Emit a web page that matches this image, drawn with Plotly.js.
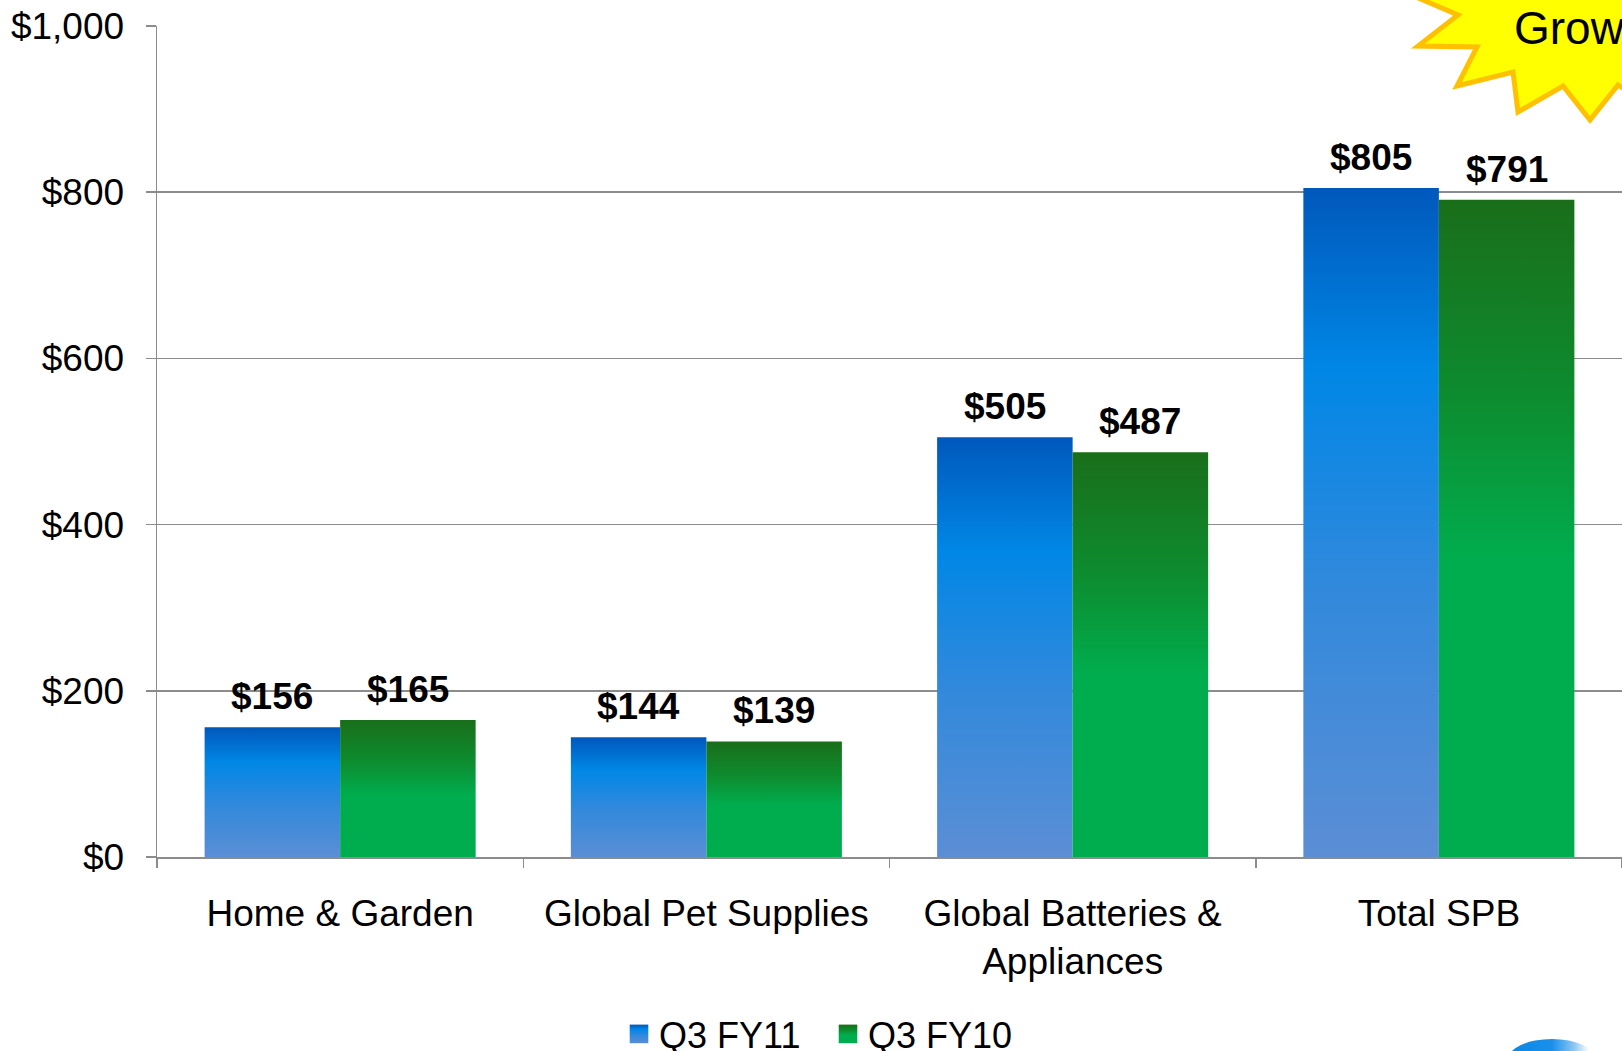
<!DOCTYPE html>
<html>
<head>
<meta charset="utf-8">
<script src="https://cdn.plot.ly/plotly-3.0.1.min.js"></script>
<style>
  html, body { margin: 0; padding: 0; background: #ffffff; }
  #chart { width: 1622px; height: 1051px; }
</style>
</head>
<body>
<div id="chart"></div>
<script>
// ---- Data ----
const categories = ["Home & Garden", "Global Pet Supplies", "Global Batteries &<br>Appliances", "Total SPB"];
const seriesNames = ["Q3 FY11", "Q3 FY10"];
const q3fy11 = [156, 144, 505, 805];
const q3fy10 = [165, 139, 487, 791];
const yTickVals = [0, 200, 400, 600, 800, 1000];
const yTickText = ["$0", "$200", "$400", "$600", "$800", "$1,000"];
const burstText = "Growth";

// ---- Layout constants (pixels) ----
const W = 1622, H = 1051;
const M = { l: 157, r: 0, t: 26, b: 194, autoexpand: false };
const plotW = W - M.l - M.r, plotH = H - M.t - M.b;
const bargap = 0.26;
const barPx = plotW / categories.length * (1 - bargap) / 2;
const FONT = "Liberation Sans, Arial, Helvetica, sans-serif";

function px(x) { return (x - M.l) / plotW; }
function py(y) { return (M.t + plotH - y) / plotH; }
function pathFromPixels(pts) {
  return "M " + pts.map(p => px(p[0]).toFixed(5) + "," + py(p[1]).toFixed(5)).join(" L ") + " Z";
}

const traces = [
  { type: "bar", name: seriesNames[0], x: categories, y: q3fy11,
    marker: { color: "#0088e5", line: { width: 0 } }, hoverinfo: "none" },
  { type: "bar", name: seriesNames[1], x: categories, y: q3fy10,
    marker: { color: "#00ad4e", line: { width: 0 } }, hoverinfo: "none" }
];

const annotations = [];
[q3fy11, q3fy10].forEach((vals, i) => {
  vals.forEach((v, j) => {
    annotations.push({
      x: categories[j], y: v, xref: "x", yref: "y",
      text: "<b>$" + v + "</b>", showarrow: false,
      xanchor: "center", yanchor: "bottom",
      xshift: (i === 0 ? -1 : 1) * barPx / 2, yshift: 8,
      font: { family: FONT, size: 37, color: "#000000" }
    });
  });
});

// Starburst decoration (top right)
const burst = [
  [1395, -12], [1458, 15], [1418, 46], [1477, 47], [1457, 86], [1513, 72],
  [1518, 112], [1563, 86], [1590, 120], [1618, 85], [1660, 110], [1720, 60], [1720, -40]
];
annotations.push({
  xref: "paper", yref: "paper", x: px(1512), y: py(28),
  xanchor: "left", yanchor: "middle", text: burstText, showarrow: false,
  font: { family: FONT, size: 46, color: "#000000" }
});

const shapes = [
  { type: "path", xref: "paper", yref: "paper", path: pathFromPixels(burst),
    fillcolor: "#ffff00", line: { color: "#ffc000", width: 5 }, layer: "above" },
  { type: "circle", xref: "paper", yref: "paper",
    x0: px(1508), x1: px(1596), y0: py(1039), y1: py(1080),
    fillcolor: "#1e8fe8", line: { width: 0 }, layer: "above" }
];

const layout = {
  width: W, height: H,
  margin: M,
  paper_bgcolor: "#ffffff", plot_bgcolor: "#ffffff",
  barmode: "group", bargap: bargap, bargroupgap: 0,
  font: { family: FONT, color: "#000000" },
  showlegend: true,
  legend: {
    orientation: "h", x: px(619), xanchor: "left",
    y: py(1034), yanchor: "middle",
    font: { family: FONT, size: 36, color: "#000000" },
    bgcolor: "rgba(0,0,0,0)", itemwidth: 30, traceorder: "normal",
    entrywidth: 164
  },
  xaxis: {
    type: "category", showgrid: false, zeroline: false,
    showline: true, linecolor: "#8c8c8c", linewidth: 1.5,
    ticks: "outside", tickson: "boundaries", ticklen: 9, tickcolor: "#8c8c8c", tickwidth: 1.5,
    tickfont: { family: FONT, size: 37, color: "#000000" },
    ticklabelstandoff: 23, automargin: false
  },
  yaxis: {
    range: [0, 1000], tickvals: yTickVals, ticktext: yTickText,
    showgrid: true, gridcolor: "#8c8c8c", gridwidth: 1.5, zeroline: false,
    showline: true, linecolor: "#8c8c8c", linewidth: 1.5,
    ticks: "outside", ticklen: 10, tickcolor: "#8c8c8c", tickwidth: 1.5,
    tickfont: { family: FONT, size: 37, color: "#000000" },
    ticklabelstandoff: 14, automargin: false, fixedrange: true
  },
  annotations: annotations,
  shapes: shapes
};

Plotly.newPlot("chart", traces, layout, { staticPlot: true, displayModeBar: false }).then(gd => {
  const svg = gd.querySelector("svg.main-svg");
  const ns = "http://www.w3.org/2000/svg";
  let defs = svg.querySelector("defs");
  if (!defs) { defs = document.createElementNS(ns, "defs"); svg.insertBefore(defs, svg.firstChild); }
  function grad(id, stops, horizontal) {
    const g = document.createElementNS(ns, "linearGradient");
    g.setAttribute("id", id);
    g.setAttribute("x1", "0"); g.setAttribute("y1", "0");
    g.setAttribute("x2", horizontal ? "1" : "0"); g.setAttribute("y2", horizontal ? "0" : "1");
    stops.forEach(s => {
      const st = document.createElementNS(ns, "stop");
      st.setAttribute("offset", s[0]);
      st.setAttribute("stop-color", s[1]);
      g.appendChild(st);
    });
    defs.appendChild(g);
  }
  grad("gBlue", [["0", "#0058bb"], ["0.27", "#0087e6"], ["0.6", "#3289dc"], ["1", "#5b8ed5"]]);
  grad("gGreen", [["0", "#1a6e1a"], ["0.3", "#0d8c2f"], ["0.55", "#00ad4e"], ["1", "#00ad4e"]]);
  grad("gSwoosh", [["0", "#0a86e6"], ["0.5", "#1a90ea"], ["0.75", "#8cc6f3"], ["0.92", "#ffffff"], ["1", "#ffffff"]], true);
  const ids = ["gBlue", "gGreen"];
  gd.querySelectorAll(".barlayer .trace").forEach((t, i) => {
    t.querySelectorAll("path").forEach(p => { p.style.fill = "url(#" + ids[i] + ")"; });
  });
  gd.querySelectorAll(".legend .traces").forEach((t, i) => {
    t.querySelectorAll(".legendpoints path").forEach(p => {
      p.style.fill = "url(#" + ids[i] + ")";
      p.setAttribute("transform", "translate(20,0) scale(1.55)");
    });
  });
  const shapePaths = gd.querySelectorAll(".layer-above .shapelayer path");
  if (shapePaths.length > 1) shapePaths[1].style.fill = "url(#gSwoosh)";
});
</script>
</body>
</html>
